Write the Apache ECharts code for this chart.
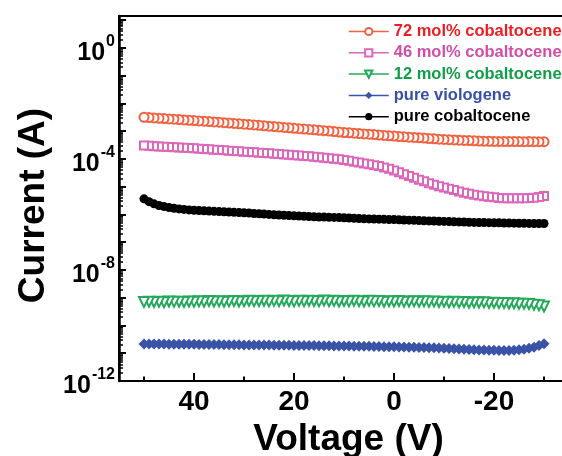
<!DOCTYPE html>
<html>
<head>
<meta charset="utf-8">
<script src="https://cdn.jsdelivr.net/npm/echarts@6/dist/echarts.min.js"></script>
<style>
html,body{margin:0;padding:0;background:#fff;}
#chart{width:562px;height:456px;}
</style>
</head>
<body>
<div id="chart"></div>
<script>
// Voltage (V), ordered as drawn
const voltages = [-30,-29,-28,-27,-26,-25,-24,-23,-22,-21,-20,-19,-18,-17,-16,-15,-14,-13,-12,-11,-10,-9,-8,-7,-6,-5,-4,-3,-2,-1,0,1,2,3,4,5,6,7,8,9,10,11,12,13,14,15,16,17,18,19,20,21,22,23,24,25,26,27,28,29,30,31,32,33,34,35,36,37,38,39,40,41,42,43,44,45,46,47,48,49,50];

const seriesNames = ['72 mol% cobaltocene','46 mol% cobaltocene','12 mol% cobaltocene','pure viologene','pure cobaltocene'];

// Current (A)
const cob72 = [4.17e-4,4.15e-4,4.17e-4,4.19e-4,4.18e-4,4.2e-4,4.21e-4,4.22e-4,4.23e-4,4.25e-4,4.27e-4,
  4.32e-4,4.36e-4,4.41e-4,4.5e-4,4.57e-4,4.63e-4,4.72e-4,4.8e-4,4.9e-4,5.01e-4,
  5.14e-4,5.28e-4,5.4e-4,5.6e-4,5.75e-4,5.9e-4,6.05e-4,6.22e-4,6.4e-4,6.61e-4,
  6.8e-4,7.0e-4,7.2e-4,7.5e-4,7.76e-4,7.95e-4,8.2e-4,8.45e-4,8.7e-4,8.91e-4,
  9.3e-4,9.6e-4,1.0e-3,1.04e-3,1.07e-3,1.11e-3,1.15e-3,1.19e-3,1.22e-3,1.26e-3,
  1.31e-3,1.36e-3,1.41e-3,1.46e-3,1.51e-3,1.56e-3,1.61e-3,1.67e-3,1.72e-3,1.78e-3,
  1.84e-3,1.9e-3,1.96e-3,2.02e-3,2.09e-3,2.15e-3,2.21e-3,2.27e-3,2.33e-3,2.4e-3,
  2.46e-3,2.53e-3,2.6e-3,2.68e-3,2.75e-3,2.82e-3,2.9e-3,2.98e-3,3.07e-3,3.16e-3];

const cob46 = [4.57e-6,4.27e-6,3.98e-6,3.89e-6,3.82e-6,3.8e-6,3.79e-6,3.8e-6,3.81e-6,3.9e-6,4.17e-6,
  4.35e-6,4.55e-6,4.79e-6,5.1e-6,5.5e-6,6.0e-6,6.7e-6,7.59e-6,8.4e-6,9.33e-6,
  1.04e-5,1.18e-5,1.33e-5,1.55e-5,1.78e-5,2.07e-5,2.4e-5,2.8e-5,3.31e-5,3.8e-5,
  4.37e-5,4.9e-5,5.5e-5,5.95e-5,6.4e-5,6.85e-5,7.4e-5,7.94e-5,8.5e-5,9.12e-5,
  9.6e-5,1.01e-4,1.05e-4,1.1e-4,1.15e-4,1.19e-4,1.24e-4,1.28e-4,1.32e-4,1.36e-4,
  1.4e-4,1.45e-4,1.49e-4,1.54e-4,1.58e-4,1.63e-4,1.67e-4,1.72e-4,1.77e-4,1.82e-4,
  1.87e-4,1.92e-4,1.98e-4,2.03e-4,2.09e-4,2.15e-4,2.21e-4,2.27e-4,2.33e-4,2.4e-4,
  2.45e-4,2.51e-4,2.57e-4,2.63e-4,2.69e-4,2.75e-4,2.82e-4,2.88e-4,2.95e-4,3.02e-4];

const cob12 = [4.8e-10,5.3e-10,5.6e-10,5.9e-10,6.1e-10,6.0e-10,6.3e-10,6.2e-10,6.5e-10,6.4e-10,6.6e-10,
  6.5e-10,6.8e-10,6.7e-10,6.9e-10,6.6e-10,7.0e-10,6.8e-10,7.1e-10,6.9e-10,7.2e-10,
  7.0e-10,7.3e-10,7.1e-10,7.4e-10,7.2e-10,7.5e-10,7.3e-10,7.2e-10,7.6e-10,7.3e-10,
  7.5e-10,7.2e-10,7.6e-10,7.4e-10,7.7e-10,7.3e-10,7.5e-10,7.8e-10,7.4e-10,7.6e-10,
  7.3e-10,7.7e-10,7.5e-10,7.9e-10,7.4e-10,7.6e-10,7.8e-10,7.5e-10,7.7e-10,7.4e-10,
  7.6e-10,7.9e-10,7.5e-10,7.7e-10,7.4e-10,7.8e-10,7.6e-10,7.5e-10,7.8e-10,7.5e-10,
  7.3e-10,7.6e-10,7.4e-10,7.2e-10,7.5e-10,7.3e-10,7.6e-10,7.2e-10,7.4e-10,7.1e-10,
  7.3e-10,7.0e-10,7.2e-10,7.1e-10,7.3e-10,6.9e-10,7.1e-10,7.0e-10,7.2e-10,7.0e-10];

const viologene = [2.2e-11,1.9e-11,1.65e-11,1.5e-11,1.4e-11,1.33e-11,1.28e-11,1.26e-11,1.25e-11,1.26e-11,1.27e-11,
  1.29e-11,1.3e-11,1.32e-11,1.33e-11,1.35e-11,1.38e-11,1.41e-11,1.44e-11,1.47e-11,1.51e-11,
  1.53e-11,1.56e-11,1.58e-11,1.6e-11,1.62e-11,1.63e-11,1.65e-11,1.66e-11,1.68e-11,1.7e-11,
  1.72e-11,1.73e-11,1.75e-11,1.76e-11,1.77e-11,1.78e-11,1.79e-11,1.8e-11,1.81e-11,1.82e-11,
  1.83e-11,1.84e-11,1.85e-11,1.86e-11,1.87e-11,1.88e-11,1.89e-11,1.9e-11,1.9e-11,1.91e-11,
  1.92e-11,1.93e-11,1.94e-11,1.95e-11,1.96e-11,1.97e-11,1.97e-11,1.98e-11,1.99e-11,2.0e-11,
  2.01e-11,2.02e-11,2.03e-11,2.04e-11,2.05e-11,2.05e-11,2.06e-11,2.07e-11,2.08e-11,2.09e-11,
  2.1e-11,2.1e-11,2.11e-11,2.12e-11,2.12e-11,2.13e-11,2.13e-11,2.14e-11,2.14e-11,2.15e-11];

const cobPure = [4.7e-7,4.7e-7,4.72e-7,4.75e-7,4.78e-7,4.8e-7,4.84e-7,4.88e-7,4.92e-7,4.96e-7,5.0e-7,
  5.04e-7,5.08e-7,5.12e-7,5.16e-7,5.2e-7,5.28e-7,5.36e-7,5.44e-7,5.52e-7,5.6e-7,
  5.68e-7,5.76e-7,5.84e-7,5.92e-7,6.0e-7,6.1e-7,6.2e-7,6.3e-7,6.4e-7,6.5e-7,
  6.58e-7,6.66e-7,6.74e-7,6.82e-7,6.9e-7,7.0e-7,7.14e-7,7.28e-7,7.44e-7,7.6e-7,
  7.7e-7,7.8e-7,7.9e-7,8.0e-7,8.1e-7,8.26e-7,8.42e-7,8.58e-7,8.74e-7,8.9e-7,
  9.1e-7,9.3e-7,9.5e-7,9.75e-7,1.0e-6,1.03e-6,1.06e-6,1.08e-6,1.12e-6,1.15e-6,
  1.17e-6,1.19e-6,1.21e-6,1.24e-6,1.26e-6,1.29e-6,1.32e-6,1.35e-6,1.38e-6,1.41e-6,
  1.45e-6,1.51e-6,1.58e-6,1.66e-6,1.78e-6,1.91e-6,2.09e-6,2.4e-6,2.88e-6,3.63e-6];

const xMajorTicks = [40, 20, 0, -20];
const xMinorTicks = [50, 30, 10, -10, -30];
const yMajorTicks = [1e-12,1e-11,1e-10,1e-9,1e-8,1e-7,1e-6,1e-5,1e-4,1e-3,1e-2,1e-1,1,10];
const yLabelTicks = [1e-12, 1e-8, 1e-4, 1];
const yMinorTicks = [];
yMajorTicks.forEach(function (d) { for (let k = 2; k <= 9; k++) yMinorTicks.push(d * k); });

const FONT = '"Liberation Sans", Arial, sans-serif';
const markerColors = ['#f2613f', '#dd66bb', '#22aa5a', '#3953a6', '#000000'];
const textColors = ['#ee1d24', '#d24ea6', '#0f9d48', '#3550a6', '#000000'];
const symbols = ['emptyCircle', 'emptyRect', 'emptyTriangle', 'diamond', 'circle'];
const symbolSizes = [9, 8, 10, 11, 9];
const symbolRotates = [0, 0, 180, 0, 0];
const allValues = [cob72, cob46, cob12, viologene, cobPure];

const chart = echarts.init(document.getElementById('chart'), null, {renderer: 'canvas'});

const series = seriesNames.map(function (name, i) {
  return {
    name: name,
    type: 'line',
    xAxisIndex: 0,
    yAxisIndex: 0,
    data: voltages.map(function (v, j) { return [v, allValues[i][j]]; }),
    symbol: symbols[i],
    symbolSize: symbolSizes[i],
    symbolRotate: symbolRotates[i],
    showSymbol: true,
    showAllSymbol: true,
    itemStyle: { color: markerColors[i], borderWidth: 1 },
    lineStyle: { width: 0, color: markerColors[i] },
    emphasis: { disabled: true },
    silent: true,
    clip: true
  };
});

const option = {
  animation: false,
  backgroundColor: '#fff',
  textStyle: { fontFamily: FONT },
  grid: {
    left: 119, right: -2, top: 16, bottom: 75,
    outerBoundsMode: 'none',
    containLabel: false,
    show: true, borderColor: '#000', borderWidth: 2, backgroundColor: 'transparent'
  },
  legend: {
    orient: 'vertical',
    left: 343,
    top: 18,
    itemWidth: 40,
    itemHeight: 9,
    itemGap: 4.3,
    selectedMode: false,
    lineStyle: { width: 1.5 },
    textStyle: { fontSize: 16.5, fontWeight: 'bold', fontFamily: FONT },
    data: seriesNames.map(function (n, i) {
      return { name: n, textStyle: { color: textColors[i] } };
    })
  },
  xAxis: [
    {
      type: 'value',
      inverse: true,
      min: -34,
      max: 55,
      position: 'bottom',
      name: 'Voltage (V)',
      nameLocation: 'middle',
      nameGap: 31,
      nameTextStyle: { fontSize: 37, fontWeight: 'bold', color: '#000', fontFamily: FONT, padding: [0, 0, 0, 14] },
      axisLine: { show: true, onZero: false, lineStyle: { color: '#000', width: 2 } },
      axisTick: { show: true, inside: true, length: 8, lineStyle: { color: '#000', width: 2 }, customValues: xMajorTicks },
      axisLabel: { customValues: xMajorTicks, fontSize: 28, fontWeight: 'bold', color: '#000', margin: 7, fontFamily: FONT },
      splitLine: { show: false }
    },
    {
      type: 'value',
      inverse: true,
      min: -34,
      max: 55,
      position: 'bottom',
      axisLine: { show: false, onZero: false },
      axisTick: { show: true, inside: true, length: 4.5, lineStyle: { color: '#000', width: 2 }, customValues: xMinorTicks },
      axisLabel: { show: false },
      splitLine: { show: false }
    }
  ],
  yAxis: [
    {
      type: 'log',
      logBase: 10,
      min: 1e-12,
      max: 14,
      position: 'left',
      name: 'Current (A)',
      nameLocation: 'middle',
      nameGap: 66,
      nameTextStyle: { fontSize: 37, fontWeight: 'bold', color: '#000', fontFamily: FONT, padding: [0, 14, 0, 0] },
      axisLine: { show: true, onZero: false, lineStyle: { color: '#000', width: 2.5 } },
      axisTick: { show: true, inside: true, length: 7, lineStyle: { color: '#000', width: 2 }, customValues: yMajorTicks },
      axisLabel: {
        customValues: yLabelTicks,
        margin: 4,
        formatter: function (v) {
          const e = Math.round(Math.log10(v));
          return '{b|10}{s|' + e + '}';
        },
        rich: {
          b: { fontSize: 25, fontWeight: 'bold', color: '#000', fontFamily: FONT, lineHeight: 28, padding: [10, 0, 0, 0] },
          s: { fontSize: 16, fontWeight: 'bold', color: '#000', fontFamily: FONT, verticalAlign: 'top', lineHeight: 16, padding: [0, 0, 0, 1] }
        }
      },
      splitLine: { show: false }
    },
    {
      type: 'log',
      logBase: 10,
      min: 1e-12,
      max: 14,
      position: 'left',
      axisLine: { show: false, onZero: false },
      axisTick: { show: true, inside: true, length: 4, lineStyle: { color: '#000', width: 1.5 }, customValues: yMinorTicks },
      axisLabel: { show: false },
      splitLine: { show: false }
    }
  ],
  series: series
};

chart.setOption(option);
</script>
</body>
</html>
